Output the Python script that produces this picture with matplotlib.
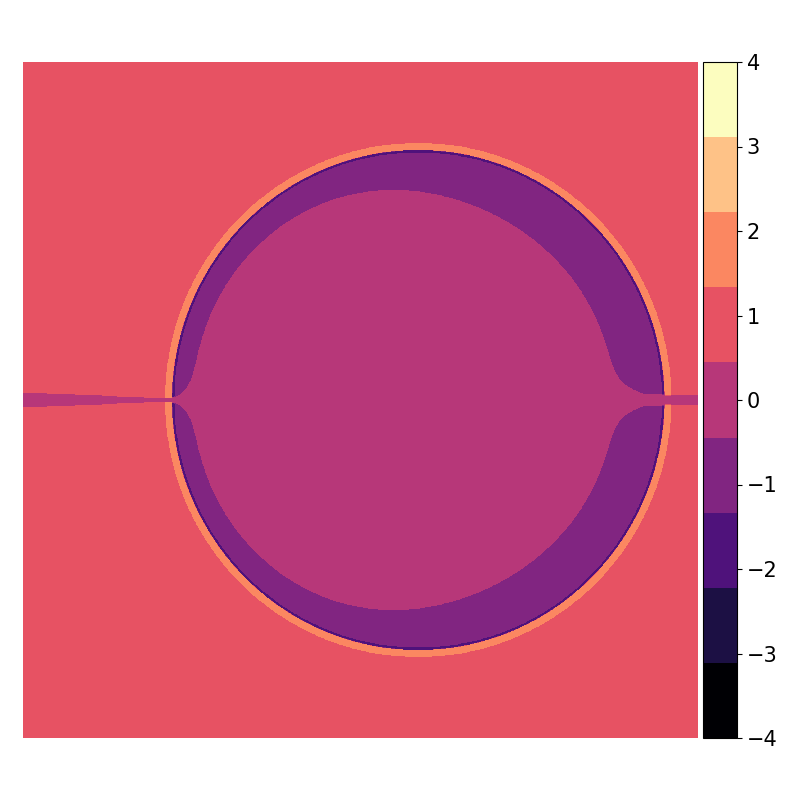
import numpy as np
import matplotlib.pyplot as plt

# contour levels / colorbar ticks
levels = np.linspace(-4, 4, 10)
cbar_ticks = [-4, -3, -2, -1, 0, 1, 2, 3, 4]

# plotting window (cylinder of radius 1 at the origin)
x_range = [-1.602, 1.134]
y_range = [-1.349, 1.349]

# field value in each region
val_outside = 0.9
val_ring = 1.8
val_rim = -1.8
val_annulus = -0.9
val_core = 0.0
val_wake = 0.0

# region geometry
ring_width = 0.024
rim_width = 0.014
core_radius = 0.83
core_stretch = 0.02
core_shift = 0.06
core_flare = 0.042
wake_left = [0.032, 0.008]   # half width at left edge, at the cylinder
wake_right = 0.02


x = np.linspace(x_range[0], x_range[1], 1200)
y = np.linspace(y_range[0], y_range[1], 1200)
X, Y = np.meshgrid(x, y)
r = np.hypot(X, Y)
phi = np.arctan2(Y, X)

# inner core boundary, flaring out to the wall along the axis
c = np.cos(phi)
base = core_radius + core_stretch * c**2 - core_shift * np.tanh(1.5 * c) / np.tanh(1.5)
rho = base + (1 - base) * np.exp(-np.abs(Y) / core_flare)

Z = np.full_like(X, val_outside)
Z[r < 1 + ring_width] = val_ring
Z[r < 1] = val_rim
Z[r < 1 - rim_width] = val_annulus
Z[r < rho] = val_core

# thin wake along the axis
half = np.where(X < 0, np.interp(X, [x_range[0], -1.0], wake_left), wake_right)
Z[np.abs(Y) < half] = val_wake

fig = plt.figure(figsize=(8, 8), dpi=100)
ax = fig.add_axes([23/800, 62/800, 675/800, 676/800])
cax = fig.add_axes([703/800, 62/800, 34/800, 676/800])

# colours run over the band midpoints, so the end bands are black / pale yellow
step = levels[1] - levels[0]
norm = plt.Normalize(levels[0] + step/2, levels[-1] - step/2)
cf = ax.contourf(X, Y, Z, levels=levels, cmap='magma', norm=norm)
ax.set_xlim(x_range)
ax.set_ylim(y_range)
ax.axis('off')

cb = fig.colorbar(cf, cax=cax, ticks=cbar_ticks)
cb.ax.tick_params(labelsize=15)

fig.savefig('out.png', dpi=100)
